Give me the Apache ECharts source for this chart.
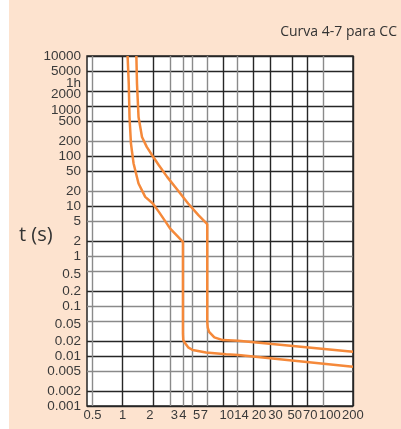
<!DOCTYPE html>
<html>
<head>
<meta charset="utf-8">
<title>Curva 4-7 para CC</title>
<script src="https://cdn.jsdelivr.net/npm/echarts@6/dist/echarts.min.js"></script>
<style>
  html, body { margin: 0; padding: 0; background: #fff; }
  #chart {
    width: 401px;
    height: 429px;
    background: linear-gradient(to right, #fff 9px, #fde3cf 9px);
  }
</style>
</head>
<body>
<div id="chart"></div>
<script>
// grid lines / labels on the current axis (multiples of In)
const xTicks = [0.5, 1, 2, 3, 4, 5, 7, 10, 14, 20, 30, 50, 70, 100, 200]
// grid lines on the time axis (s)
const yTicks = [0.001, 0.002, 0.005, 0.01, 0.02, 0.05, 0.1, 0.2, 0.5, 1, 2, 5,
  10, 20, 50, 100, 200, 500, 1000, 2000, 5000, 10000]
// time labels, 1h has no line of its own
const yLabelValues = [0.001, 0.002, 0.005, 0.01, 0.02, 0.05, 0.1, 0.2, 0.5, 1, 2, 5,
  10, 20, 50, 100, 200, 500, 1000, 2000, 3600, 5000, 10000]
const yLabelTexts = ['0.001', '0.002', '0.005', '0.01', '0.02', '0.05', '0.1', '0.2', '0.5',
  '1', '2', '5', '10', '20', '50', '100', '200', '500', '1000', '2000', '1h', '5000', '10000']

// lower band edge (vertical step at 4 In)
const lowX = [1.12, 1.15, 1.17, 1.21, 1.285, 1.44, 1.68, 2.0, 2.3, 2.69, 2.97, 4.0,
  4.0, 4.03, 4.21, 4.51, 5.0, 6.8, 10.8, 14.3, 200]
const lowY = [10000, 2800, 604, 177, 70.8, 28.2, 15.2, 11.2, 7.63, 4.82, 3.56, 1.92,
  0.028, 0.0208, 0.0179, 0.0149, 0.0132, 0.0118, 0.0108, 0.0105, 0.0061]

// upper band edge (vertical step at 7 In)
const highX = [1.37, 1.39, 1.44, 1.56, 1.74, 2.0, 2.3, 2.78, 3.55, 4.51, 5.71, 7.0,
  7.0, 7.08, 7.3, 8.24, 10, 14.3, 200]
const highY = [10000, 2800, 604, 240, 152, 99, 65.5, 38.2, 20.7, 11.2, 6.56, 4.33,
  0.048, 0.037, 0.0305, 0.0236, 0.0208, 0.0202, 0.0122]

const DARK = '#262626'
const GRAY = '#8a8a8a'
const ORANGE = '#f5893a'
const labelFont = 'Liberation Sans, Arial, sans-serif'

// small shifts so the labels sit where the printed ones do
// (100 is kept short of the 200 label, else echarts drops one of them)
const xNudge = { 2: -3, 3: 4, 5: 4, 7: -3, 10: 4, 14: 4, 20: 6, 30: 5, 50: 2, 70: 3, 100: 7 }
const yNudge = { 3600: 5, 2000: 3, 1000: 4, 0.5: 3, 0.05: 3 }

function findIdx(list, v) {
  for (let i = 0; i < list.length; i++) {
    if (Math.abs(list[i] - v) <= list[i] * 1e-6) return i
  }
  return -1
}

const xRich = {}
xTicks.forEach((v, i) => {
  const d = xNudge[v]
  if (d) xRich['x' + i] = { padding: d > 0 ? [0, 0, 0, 2 * d] : [0, -2 * d, 0, 0] }
})
const yRich = {}
yLabelValues.forEach((v, i) => {
  const d = yNudge[v]
  if (d) yRich['y' + i] = { padding: [2 * d, 0, 0, 0] }
})

const chart = echarts.init(document.getElementById('chart'))

const option = {
  animation: false,
  backgroundColor: 'transparent',
  title: [
    {
      text: 'Curva 4-7 para CC',
      right: 4,
      top: 25,
      padding: 0,
      textStyle: { fontFamily: 'Open Sans', fontSize: 14, fontWeight: 'normal', color: '#333' }
    },
    {
      text: 't (s)',
      left: 19,
      top: 225,
      padding: 0,
      textStyle: { fontFamily: 'Open Sans', fontSize: 20, fontWeight: 'normal', color: '#333' }
    }
  ],
  grid: {
    left: 87,
    right: 48,
    top: 56,
    bottom: 23,
    show: true,
    backgroundColor: '#fff',
    borderColor: DARK,
    borderWidth: 1.5
  },
  xAxis: {
    type: 'log',
    logBase: 10,
    min: 0.44,
    max: 200.2,
    axisLine: { show: false },
    axisTick: { show: false, customValues: xTicks },
    splitLine: {
      show: true,
      lineStyle: {
        width: 1.4,
        color: [GRAY, DARK, DARK, GRAY, GRAY, GRAY, GRAY, DARK, GRAY, DARK, DARK, DARK, DARK, GRAY, DARK]
      }
    },
    axisLabel: {
      customValues: xTicks,
      showMinLabel: true,
      showMaxLabel: true,
      hideOverlap: false,
      margin: 3,
      fontFamily: labelFont,
      fontSize: 13,
      color: '#3a3a3a',
      rich: xRich,
      formatter: function (v) {
        const i = findIdx(xTicks, v)
        if (i < 0) return ''
        const s = String(xTicks[i])
        return xRich['x' + i] ? '{x' + i + '|' + s + '}' : s
      }
    }
  },
  yAxis: {
    type: 'log',
    logBase: 10,
    min: 0.001,
    max: 10000,
    axisLine: { show: false },
    axisTick: { show: false, customValues: yTicks },
    splitLine: {
      show: true,
      lineStyle: {
        width: 1.4,
        color: [DARK, DARK, GRAY, DARK, DARK, GRAY, GRAY, DARK, GRAY, GRAY, DARK, GRAY,
          DARK, GRAY, DARK, DARK, GRAY, DARK, DARK, DARK, DARK, DARK]
      }
    },
    axisLabel: {
      customValues: yLabelValues,
      showMinLabel: true,
      showMaxLabel: true,
      hideOverlap: false,
      margin: 6,
      fontFamily: labelFont,
      fontSize: 13.5,
      color: '#3a3a3a',
      rich: yRich,
      formatter: function (v) {
        const i = findIdx(yLabelValues, v)
        if (i < 0) return ''
        const s = yLabelTexts[i]
        return yRich['y' + i] ? '{y' + i + '|' + s + '}' : s
      }
    }
  },
  series: [
    {
      name: 'low',
      type: 'line',
      data: lowX.map((x, i) => [x, lowY[i]]),
      symbol: 'none',
      lineStyle: { color: ORANGE, width: 2.5 }
    },
    {
      name: 'high',
      type: 'line',
      data: highX.map((x, i) => [x, highY[i]]),
      symbol: 'none',
      lineStyle: { color: ORANGE, width: 2.5 }
    }
  ]
}

chart.setOption(option)
</script>
</body>
</html>
